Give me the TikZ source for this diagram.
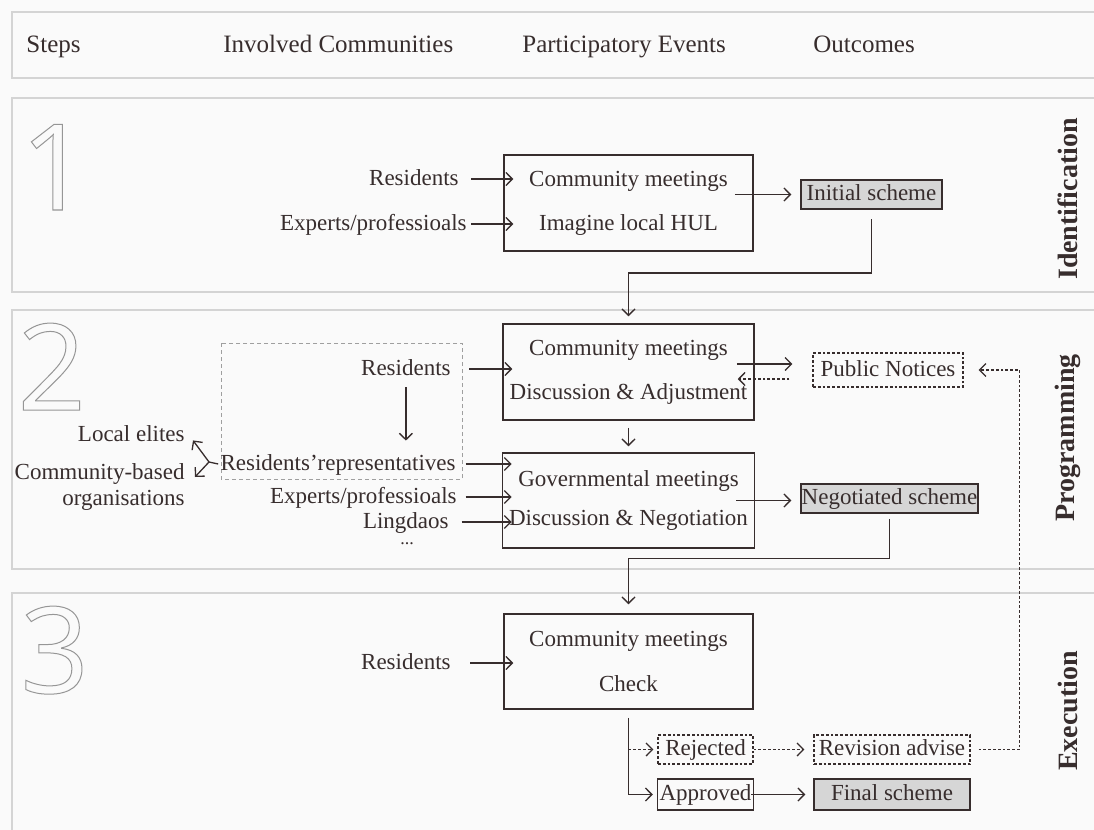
\documentclass[tikz,border=0pt]{standalone}
\usepackage{fontspec}
\setmainfont{Liberation Serif}
\newfontfamily\numfont{Open Sans}
\usetikzlibrary{calc, arrows.meta}
\newcommand{\hollow}[1]{\special{pdf:literal direct 1 Tr 0.5 w}#1\special{pdf:literal direct 0 Tr}}

\begin{document}
\begin{tikzpicture}[x=0.5pt, y=-0.5pt,
	every node/.style={text=inkcol, font=\fontsize{11.5pt}{13pt}\selectfont},
	who/.style={anchor=east, inner sep=1pt, text height=8pt, text depth=2pt},
	evbox/.style={draw=inkcol, line width=0.75pt, minimum width=124.5pt, minimum height=48pt, align=center},
	scheme/.style={draw=inkcol, line width=0.75pt, fill=schemefill, inner sep=1pt, minimum height=14.5pt, text height=8pt, text depth=2pt},
	notice/.style={draw=inkcol, line width=0.6pt, dash pattern=on 1.4pt off 1pt, inner sep=1pt, minimum height=14.5pt, text height=8pt, text depth=2pt},
	flow/.style={draw=inkcol, line width=0.65pt, -{Straight Barb[length=3.2pt,width=6.5pt]}},
	dotflow/.style={flow, dash pattern=on 1.4pt off 1pt},
	panel/.style={draw=panelline, line width=0.6pt, fill=panelfill},
	colhead/.style={anchor=base west, inner sep=0pt, font=\fontsize{12.5pt}{14pt}\selectfont},
	phase/.style={rotate=90, font=\fontsize{14pt}{16pt}\selectfont\bfseries},
	bignum/.style={anchor=base west, inner sep=0pt, text=numline, font=\fontsize{60pt}{60pt}\selectfont\numfont}]
	\definecolor{panelfill}{RGB}{250,250,250}
	\definecolor{panelline}{RGB}{212,212,212}
	\definecolor{inkcol}{RGB}{55,45,45}
	\definecolor{schemefill}{RGB}{214,214,214}
	\definecolor{numline}{RGB}{150,150,150}
	\useasboundingbox[fill=panelfill] (0,0) rectangle (1094,830);

	% header and the three step panels
	\draw[panel] (12,12) rectangle (1110,78);
	\draw[panel] (12,98) rectangle (1110,292);
	\draw[panel] (12,310) rectangle (1110,569);
	\draw[panel] (12,593) rectangle (1110,850);
	\node[colhead] (hsteps) at (26,53) {Steps};
	\node[colhead] (hcomm) at (223,53) {Involved Communities};
	\node[colhead] (hevents) at (522,53) {Participatory Events};
	\node[colhead] (hout) at (813,53) {Outcomes};
	\node[bignum] (num1) at (20,210) {\hollow{1}};
	\node[bignum] (num2) at (17,410) {\hollow{2}};
	\node[bignum] (num3) at (20,693) {\hollow{3}};
	\node[phase] (ident) at (1068,199) {Identification};
	\node[phase] (prog) at (1068,438) {Programming};
	\node[phase] (exec) at (1068,711) {Execution};

	% step 1
	\node[evbox] (box1) at (628.5,203) {Community meetings\\[9pt]Imagine local HUL};
	\node[who] (res1) at (461,179) {Residents};
	\node[who] (exp1) at (469,224) {Experts/professioals};
	\node[scheme, minimum width=70.5pt] (init) at (871.5,194.5) {Initial scheme};
	\draw[flow] ($(res1.east -| box1.west)+(-16pt,0)$) -- ($(res1.east -| box1.west)+(5pt,0)$);
	\draw[flow] ($(exp1.east -| box1.west)+(-16pt,0)$) -- ($(exp1.east -| box1.west)+(5pt,0)$);
	\draw[flow] ($(box1.east |- init.west)+(-9.5pt,0)$) -- ([xshift=-4.5pt]init.west);

	% step 2
	\node[evbox] (box2) at (628.5,372) {Community meetings\\[9pt]Discussion \& Adjustment};
	\node[evbox, minimum height=47.5pt] (box3) at (628.5,500.5) {Governmental meetings\\[6.5pt]Discussion \& Negotiation};
	\draw[draw=gray!75, line width=0.5pt, dash pattern=on 2pt off 1.5pt] (221,343) rectangle (462,479);
	\node[who] (res2) at (453,369) {Residents};
	\node[who] (reps) at (458,464) {Residents'representatives};
	\node[who] (exp2) at (459,497) {Experts/professioals};
	\node[who] (ling) at (451,522) {Lingdaos};
	\node[inner sep=0pt, font=\fontsize{9pt}{10pt}\selectfont] (etc) at (407,544) {...};
	\node[who] (elites) at (187,435) {Local elites};
	\node[anchor=east, inner sep=1pt, align=right] (cbo) at (187,487) {Community-based\\organisations};
	\coordinate (fork) at (209,462);
	\node[notice, minimum width=75pt, minimum height=17pt] (pub) at (888,370) {Public Notices};
	\node[scheme, inner sep=0pt, minimum width=88.5pt] (neg) at (889.5,498.5) {Negotiated scheme};
	\draw[flow] (init.south |- 0,219) -- ++(0,54) -| ([yshift=3.5pt]box2.north);
	\draw[flow] ($(res2.east -| box2.west)+(-16.5pt,0)$) -- ($(res2.east -| box2.west)+(5pt,0)$);
	\draw[flow] ([yshift=-3pt]res2.south) -- ([yshift=5.5pt]res2.south |- reps.north);
	\draw[draw=inkcol, line width=0.65pt] (reps.west) -- (fork);
	\draw[flow] (fork) -- ($(elites.south east)+(3pt,3.5pt)$);
	\draw[flow] (fork) -- ($(cbo.east)+(4pt,5pt)$);
	\draw[flow] ($(reps.east -| box3.west)+(-18pt,0)$) -- ($(reps.east -| box3.west)+(5pt,0)$);
	\draw[flow] ($(exp2.east -| box3.west)+(-18pt,0)$) -- ($(exp2.east -| box3.west)+(5pt,0)$);
	\draw[flow] ($(ling.east -| box3.west)+(-20pt,0)$) -- ($(ling.east -| box3.west)+(5pt,0)$);
	\draw[flow] ([yshift=-3.5pt]box2.south) -- ([yshift=3pt]box3.north);
	\draw[flow] ($(box2.east)+(-9pt,4pt)$) -- ($(pub.west |- box2.east)+(-10pt,4pt)$);
	\draw[dotflow] ($(pub.west |- box2.east)+(-11.5pt,-3.5pt)$) -- ($(box2.east)+(-8.5pt,-3.5pt)$);
	\draw[flow] ([xshift=-9.5pt]box3.east) -- ($(neg.west |- box3.east)+(-4.5pt,0)$);

	% step 3
	\node[evbox, minimum height=47.5pt] (box4) at (628.5,661.5) {Community meetings\\[9.5pt]Check};
	\node[who] (res3) at (453,663) {Residents};
	\node[notice, minimum width=47.5pt] (rej) at (705.5,749.5) {Rejected};
	\node[scheme, fill=none, minimum width=47.5pt, minimum height=15.5pt] (appr) at (705.5,794.5) {Approved};
	\node[notice, minimum width=78pt] (rev) at (892,749.5) {Revision advise};
	\node[scheme, minimum width=78pt, minimum height=15.5pt] (final) at (892,794.5) {Final scheme};
	\draw[flow] ([yshift=-2.5pt]neg.south) -- ++(0,40) -| ([yshift=4.5pt]box4.north);
	\draw[flow] ($(res3.east -| box4.west)+(-16.5pt,0)$) -- ($(res3.east -| box4.west)+(5pt,0)$);
	\draw[flow] ([yshift=-4pt]box4.south) |- ([xshift=-2pt]appr.west);
	\draw[dotflow] (box4.south |- rej.west) -- ([xshift=-2pt]rej.west);
	\draw[dotflow] (rej.east) -- ([xshift=-4.5pt]rev.west);
	\draw[dotflow] ([xshift=4pt]rev.east) -- ++(41,0) |- ([xshift=7.5pt]pub.east);
	\draw[flow] ([xshift=-1.5pt]appr.east) -- ([xshift=-4pt]final.west);
\end{tikzpicture}
\end{document}
